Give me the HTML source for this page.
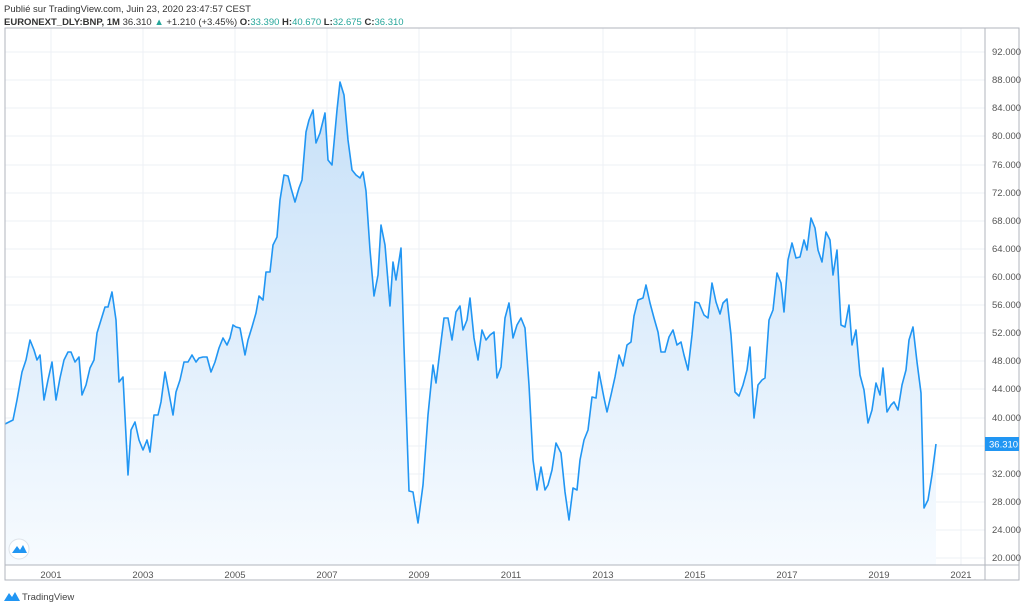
<!DOCTYPE html>
<html><head><meta charset="utf-8"><style>
body{margin:0;width:1024px;height:608px;background:#fff;overflow:hidden;font-family:"Liberation Sans",sans-serif}
svg{position:absolute;left:0;top:0}
</style></head><body>
<svg width="1024" height="608" viewBox="0 0 1024 608" xmlns="http://www.w3.org/2000/svg">
<defs><linearGradient id="g" x1="0" y1="0" x2="0" y2="1">
<stop offset="0" stop-color="#c6e0f8"/><stop offset="1" stop-color="#f7fbff"/></linearGradient></defs>
<text x="4" y="12" font-size="9.5" fill="#333">Publié sur TradingView.com, Juin 23, 2020 23:47:57 CEST</text>
<text x="4" y="25" font-size="9.5" fill="#333"><tspan font-weight="bold">EURONEXT_DLY:BNP, 1M</tspan> 36.310 <tspan fill="#26a69a">▲</tspan> +1.210 (+3.45%) <tspan font-weight="bold">O:</tspan><tspan fill="#26a69a">33.390</tspan> <tspan font-weight="bold">H:</tspan><tspan fill="#26a69a">40.670</tspan> <tspan font-weight="bold">L:</tspan><tspan fill="#26a69a">32.675</tspan> <tspan font-weight="bold">C:</tspan><tspan fill="#26a69a">36.310</tspan></text>
<g stroke="#eef1f6" stroke-width="1">
<line x1="5" x2="985" y1="52" y2="52"/><line x1="5" x2="985" y1="80" y2="80"/><line x1="5" x2="985" y1="108" y2="108"/><line x1="5" x2="985" y1="136" y2="136"/><line x1="5" x2="985" y1="165" y2="165"/><line x1="5" x2="985" y1="193" y2="193"/><line x1="5" x2="985" y1="221" y2="221"/><line x1="5" x2="985" y1="249" y2="249"/><line x1="5" x2="985" y1="277" y2="277"/><line x1="5" x2="985" y1="305" y2="305"/><line x1="5" x2="985" y1="333" y2="333"/><line x1="5" x2="985" y1="361" y2="361"/><line x1="5" x2="985" y1="389" y2="389"/><line x1="5" x2="985" y1="418" y2="418"/><line x1="5" x2="985" y1="446" y2="446"/><line x1="5" x2="985" y1="474" y2="474"/><line x1="5" x2="985" y1="502" y2="502"/><line x1="5" x2="985" y1="530" y2="530"/><line x1="5" x2="985" y1="558" y2="558"/>
<line y1="28" y2="565" x1="51" x2="51"/><line y1="28" y2="565" x1="143" x2="143"/><line y1="28" y2="565" x1="235" x2="235"/><line y1="28" y2="565" x1="327" x2="327"/><line y1="28" y2="565" x1="419" x2="419"/><line y1="28" y2="565" x1="511" x2="511"/><line y1="28" y2="565" x1="603" x2="603"/><line y1="28" y2="565" x1="695" x2="695"/><line y1="28" y2="565" x1="787" x2="787"/><line y1="28" y2="565" x1="879" x2="879"/><line y1="28" y2="565" x1="961" x2="961"/>
</g>
<path id="a" fill="url(#g)" d="M5,565 L5,424 13,420 17,400 22,372 26,360 30,340 34,350 37,360 40,355 44,400 48,380 52,362 56,400 60,378 64,360 68,352 71,352 75,362 79,357 82,395 86,385 90,368 94,360 97,333 101,320 105,307 108,307 112,292 116,320 119,382 123,377 128,475 131,430 135,422 139,440 143,450 147,440 150,452 154,415 158,415 161,402 165,372 168,388 173,415 176,392 180,380 184,362 188,362 192,355 196,362 199,358 203,357 207,357 211,372 215,362 219,348 223,338 227,345 230,338 233,325 236,327 240,328 245,355 248,340 252,327 256,313 259,296 263,300 266,272 270,272 273,245 277,237 280,200 284,175 288,176 291,188 295,202 299,188 302,180 306,132 309,120 313,110 316,143 320,133 325,113 328,160 332,165 337,110 340,82 344,95 348,140 352,170 356,175 360,178 363,172 366,191 370,250 374,296 378,275 381,225 385,245 390,306 393,262 396,280 401,248 404,347 409,491 413,492 418,523 423,485 428,415 433,365 436,383 440,350 444,318 448,318 452,340 456,312 460,306 463,330 467,320 470,298 474,338 478,360 482,330 486,340 490,335 494,332 497,378 501,367 505,318 509,303 513,338 517,325 521,318 525,328 529,385 533,460 537,490 541,467 545,490 548,485 552,470 556,443 561,453 565,492 569,520 573,488 577,490 580,460 584,440 588,430 592,397 596,398 599,372 604,398 607,412 611,395 615,377 619,355 623,366 627,345 631,342 634,316 638,300 643,298 646,285 650,303 654,318 658,332 661,352 665,352 669,337 673,330 677,345 681,342 684,355 688,370 692,335 695,302 699,303 704,315 708,318 712,283 716,302 720,314 723,303 727,299 731,335 735,392 739,396 743,385 747,370 750,347 754,418 758,385 762,380 765,378 769,320 773,310 777,273 781,283 784,312 788,260 792,243 796,258 800,257 804,240 807,250 811,218 815,228 818,250 822,262 826,232 830,240 833,275 837,250 841,325 845,327 849,305 852,345 856,330 860,375 864,390 868,423 872,410 876,383 880,395 883,368 887,412 891,405 894,402 898,410 902,385 906,370 909,340 913,327 917,362 921,393 924,508 928,500 932,475 936,444 L936,565 Z"/>
<polyline fill="none" stroke="#2196f3" stroke-width="1.6" stroke-linejoin="round" points="5,424 13,420 17,400 22,372 26,360 30,340 34,350 37,360 40,355 44,400 48,380 52,362 56,400 60,378 64,360 68,352 71,352 75,362 79,357 82,395 86,385 90,368 94,360 97,333 101,320 105,307 108,307 112,292 116,320 119,382 123,377 128,475 131,430 135,422 139,440 143,450 147,440 150,452 154,415 158,415 161,402 165,372 168,388 173,415 176,392 180,380 184,362 188,362 192,355 196,362 199,358 203,357 207,357 211,372 215,362 219,348 223,338 227,345 230,338 233,325 236,327 240,328 245,355 248,340 252,327 256,313 259,296 263,300 266,272 270,272 273,245 277,237 280,200 284,175 288,176 291,188 295,202 299,188 302,180 306,132 309,120 313,110 316,143 320,133 325,113 328,160 332,165 337,110 340,82 344,95 348,140 352,170 356,175 360,178 363,172 366,191 370,250 374,296 378,275 381,225 385,245 390,306 393,262 396,280 401,248 404,347 409,491 413,492 418,523 423,485 428,415 433,365 436,383 440,350 444,318 448,318 452,340 456,312 460,306 463,330 467,320 470,298 474,338 478,360 482,330 486,340 490,335 494,332 497,378 501,367 505,318 509,303 513,338 517,325 521,318 525,328 529,385 533,460 537,490 541,467 545,490 548,485 552,470 556,443 561,453 565,492 569,520 573,488 577,490 580,460 584,440 588,430 592,397 596,398 599,372 604,398 607,412 611,395 615,377 619,355 623,366 627,345 631,342 634,316 638,300 643,298 646,285 650,303 654,318 658,332 661,352 665,352 669,337 673,330 677,345 681,342 684,355 688,370 692,335 695,302 699,303 704,315 708,318 712,283 716,302 720,314 723,303 727,299 731,335 735,392 739,396 743,385 747,370 750,347 754,418 758,385 762,380 765,378 769,320 773,310 777,273 781,283 784,312 788,260 792,243 796,258 800,257 804,240 807,250 811,218 815,228 818,250 822,262 826,232 830,240 833,275 837,250 841,325 845,327 849,305 852,345 856,330 860,375 864,390 868,423 872,410 876,383 880,395 883,368 887,412 891,405 894,402 898,410 902,385 906,370 909,340 913,327 917,362 921,393 924,508 928,500 932,475 936,444"/>
<rect x="5" y="28" width="1014" height="552" fill="none" stroke="#b2b5be" stroke-width="1"/>
<line x1="985" x2="985" y1="28" y2="580" stroke="#b2b5be"/>
<line x1="5" x2="1019" y1="565" y2="565" stroke="#b2b5be"/>
<g font-size="9.5" fill="#555">
<text x="992" y="55">92.000</text><text x="992" y="83">88.000</text><text x="992" y="111">84.000</text><text x="992" y="139">80.000</text><text x="992" y="168">76.000</text><text x="992" y="196">72.000</text><text x="992" y="224">68.000</text><text x="992" y="252">64.000</text><text x="992" y="280">60.000</text><text x="992" y="308">56.000</text><text x="992" y="336">52.000</text><text x="992" y="364">48.000</text><text x="992" y="392">44.000</text><text x="992" y="421">40.000</text><text x="992" y="477">32.000</text><text x="992" y="505">28.000</text><text x="992" y="533">24.000</text><text x="992" y="561">20.000</text>
<g text-anchor="middle"><text x="51" y="578">2001</text><text x="143" y="578">2003</text><text x="235" y="578">2005</text><text x="327" y="578">2007</text><text x="419" y="578">2009</text><text x="511" y="578">2011</text><text x="603" y="578">2013</text><text x="695" y="578">2015</text><text x="787" y="578">2017</text><text x="879" y="578">2019</text><text x="961" y="578">2021</text></g>
</g>
<rect x="985" y="437" width="34" height="14" fill="#2196f3"/>
<text x="989" y="447.5" font-size="9.5" fill="#fff">36.310</text>
<circle cx="19" cy="549" r="10" fill="#fff" stroke="#dde3ea"/>
<path d="M12,553 L17,546 20,550 23,545 27,553 Z" fill="#2196f3"/>
<path d="M4,601 L9,593 12,597 15,592 20,601 Z" fill="#2196f3"/>
<text x="22" y="600" font-size="9.5" fill="#444">TradingView</text>
</svg>
</body></html>
